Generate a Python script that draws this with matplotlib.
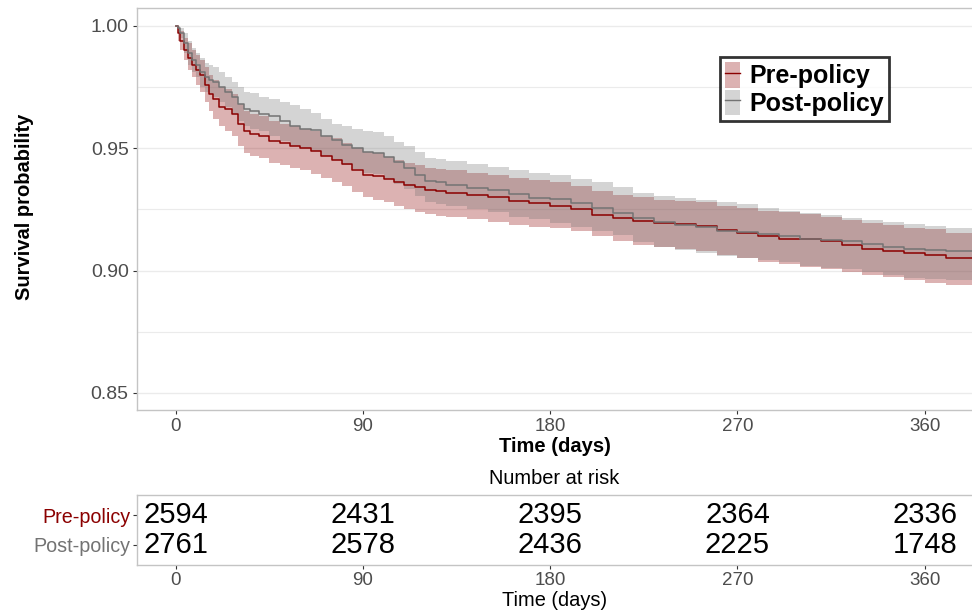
import matplotlib
matplotlib.use("Agg")
import matplotlib.pyplot as plt
from matplotlib.patches import Patch
from matplotlib.lines import Line2D

plt.rcParams['font.family'] = ['Liberation Sans', 'DejaVu Sans']

# Kaplan-Meier estimates (step points, days)
t_days = [0, 1, 2, 4, 6, 8, 10, 12, 14, 16,
          18, 21, 24, 27, 30, 33, 36, 40, 45, 50,
          55, 60, 65, 70, 75, 80, 85, 90, 95, 100,
          105, 110, 115, 120, 125, 130, 140, 150, 160, 170,
          180, 190, 200, 210, 220, 230, 240, 250, 260, 270,
          280, 290, 300, 310, 320, 330, 340, 350, 360, 370,
          383]

pre_surv = [1.000, 0.997, 0.994, 0.990, 0.987, 0.984, 0.982, 0.980, 0.976, 0.972,
            0.970, 0.967, 0.966, 0.964, 0.960, 0.957, 0.956, 0.955, 0.953, 0.952,
            0.951, 0.950, 0.9487, 0.947, 0.945, 0.9435, 0.941, 0.939, 0.9388, 0.9375,
            0.936, 0.935, 0.934, 0.9328, 0.9324, 0.9318, 0.931, 0.930, 0.9285, 0.9277,
            0.9265, 0.925, 0.9228, 0.9213, 0.9201, 0.9193, 0.9189, 0.9183, 0.9167, 0.9152,
            0.914, 0.9128, 0.9127, 0.912, 0.9103, 0.909, 0.908, 0.907, 0.9064, 0.905,
            0.904]
pre_upper = [1.000, 0.999, 0.998, 0.995, 0.993, 0.990, 0.988, 0.986, 0.983, 0.980,
             0.978, 0.975, 0.974, 0.972, 0.968, 0.965, 0.964, 0.963, 0.961, 0.960,
             0.959, 0.958, 0.957, 0.955, 0.954, 0.952, 0.950, 0.9485, 0.948, 0.9465,
             0.945, 0.944, 0.943, 0.942, 0.9415, 0.941, 0.940, 0.939, 0.938, 0.937,
             0.936, 0.9345, 0.9325, 0.931, 0.930, 0.929, 0.9285, 0.928, 0.9265, 0.9255,
             0.9245, 0.924, 0.9232, 0.922, 0.9205, 0.9195, 0.9185, 0.9175, 0.917, 0.9155,
             0.915]
pre_lower = [1.000, 0.994, 0.990, 0.986, 0.982, 0.979, 0.976, 0.973, 0.969, 0.965,
             0.962, 0.959, 0.957, 0.955, 0.951, 0.948, 0.947, 0.946, 0.944, 0.943,
             0.942, 0.941, 0.9395, 0.938, 0.936, 0.9345, 0.932, 0.930, 0.929, 0.928,
             0.9265, 0.925, 0.924, 0.923, 0.9222, 0.9218, 0.921, 0.920, 0.9185, 0.9178,
             0.9175, 0.916, 0.914, 0.912, 0.9105, 0.9095, 0.909, 0.908, 0.9065, 0.905,
             0.9035, 0.9025, 0.9015, 0.9005, 0.8995, 0.8983, 0.8973, 0.8962, 0.895, 0.894,
             0.8925]

post_surv = [1.000, 0.999, 0.997, 0.993, 0.989, 0.986, 0.984, 0.981, 0.979, 0.978,
             0.977, 0.975, 0.973, 0.971, 0.968, 0.966, 0.965, 0.964, 0.963, 0.961,
             0.959, 0.958, 0.9575, 0.955, 0.9535, 0.9515, 0.950, 0.9485, 0.948, 0.9465,
             0.9442, 0.942, 0.939, 0.9365, 0.936, 0.935, 0.9337, 0.933, 0.9312, 0.9298,
             0.9293, 0.9276, 0.9255, 0.9237, 0.9215, 0.920, 0.9188, 0.9176, 0.9163, 0.9157,
             0.9148, 0.914, 0.913, 0.9124, 0.912, 0.911, 0.9098, 0.9088, 0.9085, 0.908,
             0.906]
post_upper = [1.000, 1.000, 0.999, 0.997, 0.994, 0.991, 0.989, 0.987, 0.985, 0.984,
              0.983, 0.981, 0.979, 0.977, 0.975, 0.973, 0.9725, 0.971, 0.970, 0.969,
              0.9675, 0.966, 0.9645, 0.962, 0.960, 0.959, 0.9577, 0.957, 0.9565, 0.955,
              0.9525, 0.951, 0.9485, 0.946, 0.9455, 0.9448, 0.9435, 0.9425, 0.941, 0.940,
              0.9392, 0.9375, 0.936, 0.934, 0.9318, 0.9305, 0.9297, 0.9288, 0.928, 0.927,
              0.9255, 0.9245, 0.9235, 0.9225, 0.9215, 0.9208, 0.920, 0.919, 0.9184, 0.9175,
              0.916]
post_lower = [1.000, 0.997, 0.995, 0.989, 0.984, 0.981, 0.979, 0.975, 0.973, 0.972,
              0.971, 0.969, 0.967, 0.964, 0.961, 0.959, 0.958, 0.957, 0.955, 0.953,
              0.951, 0.950, 0.949, 0.947, 0.945, 0.943, 0.9415, 0.940, 0.9395, 0.9375,
              0.9355, 0.9335, 0.9305, 0.928, 0.9272, 0.9262, 0.925, 0.924, 0.922, 0.921,
              0.9195, 0.9178, 0.916, 0.9145, 0.9115, 0.9097, 0.9085, 0.907, 0.9058, 0.905,
              0.9045, 0.9033, 0.902, 0.901, 0.9005, 0.8995, 0.898, 0.897, 0.8965, 0.896,
              0.8945]

# number at risk table
risk_times = [0, 90, 180, 270, 360]
pre_risk = [2594, 2431, 2395, 2364, 2336]
post_risk = [2761, 2578, 2436, 2225, 1748]

groups = ['Pre-policy', 'Post-policy']
PRE_COL = '#8B0000'
POST_COL = '#737373'
BORDER = '#C4C4C4'
GRID = '#EBEBEB'
TICK_TXT = '#4D4D4D'

XLIM = (-18.5, 382.7)

fig = plt.figure(figsize=(9.72, 6.16), dpi=100)

# ---- survival curves
ax = fig.add_axes([137 / 972, 1 - 410 / 616, 835 / 972, 402 / 616])
ax.fill_between(t_days, pre_lower, pre_upper, step='post', color=PRE_COL,
                alpha=0.3, lw=0)
ax.fill_between(t_days, post_lower, post_upper, step='post', color=POST_COL,
                alpha=0.3, lw=0)
ax.step(t_days, pre_surv, where='post', color=PRE_COL, lw=1.1)
ax.step(t_days, post_surv, where='post', color=POST_COL, lw=1.1)

ax.set_xlim(*XLIM)
ax.set_ylim(0.843, 1.0073)
ax.set_xticks(risk_times)
ax.set_yticks([0.85, 0.90, 0.95, 1.00])
ax.set_yticklabels(['0.85', '0.90', '0.95', '1.00'])
ax.set_yticks([0.875, 0.925, 0.975], minor=True)
ax.grid(True, which='major', axis='y', color=GRID, lw=1.0)
ax.grid(True, which='minor', axis='y', color=GRID, lw=0.8)
ax.set_axisbelow(True)
ax.tick_params(which='minor', left=False)
ax.tick_params(which='major', colors='#333333', labelcolor=TICK_TXT,
               length=3, width=0.8, pad=3)
ax.tick_params(axis='y', labelsize=14)
ax.tick_params(axis='x', labelsize=13.5, pad=3)
for side, sp in ax.spines.items():
    sp.set_color(BORDER)
    sp.set_linewidth(1.0)
ax.spines['right'].set_visible(False)

handles = [(Patch(facecolor=PRE_COL, alpha=0.3, lw=0), Line2D([], [], color=PRE_COL, lw=1)),
           (Patch(facecolor=POST_COL, alpha=0.3, lw=0), Line2D([], [], color=POST_COL, lw=1))]
leg = ax.legend(handles, groups, loc='upper left', bbox_to_anchor=(0.698, 0.878),
                prop={'weight': 'bold', 'size': 18}, frameon=True, fancybox=False,
                handlelength=0.6, handleheight=1.2, handletextpad=0.4,
                borderpad=0.2, labelspacing=0.05, borderaxespad=0)
leg.get_frame().set_edgecolor('black')
leg.get_frame().set_linewidth(2.0)

fig.text(25 / 972, 1 - 207 / 616, 'Survival probability', rotation=90,
         ha='center', va='center', fontsize=14.5, fontweight='bold')
fig.text(554.5 / 972, 1 - 446 / 616, 'Time (days)', ha='center', va='center',
         fontsize=14.5, fontweight='bold')

# ---- risk table
fig.text(554.5 / 972, 1 - 478 / 616, 'Number at risk', ha='center', va='center',
         fontsize=14.4)
tab = fig.add_axes([137 / 972, 1 - 565 / 616, 835 / 972, 70 / 616])
tab.set_xlim(*XLIM)
tab.set_ylim(-0.7, 1.7)
for t, n in zip(risk_times, pre_risk):
    tab.text(t, 1, str(n), ha='center', va='center', fontsize=21)
for t, n in zip(risk_times, post_risk):
    tab.text(t, 0, str(n), ha='center', va='center', fontsize=21)
tab.set_xticks(risk_times)
tab.set_yticks([1, 0])
tab.tick_params(colors='#333333', length=3, width=0.8)
tab.tick_params(axis='x', labelsize=13.5, labelcolor=TICK_TXT, pad=2)
tab.tick_params(axis='y', labelsize=14.2, pad=2)
tab.set_yticklabels(groups)
for lbl, col in zip(tab.get_yticklabels(), [PRE_COL, POST_COL]):
    lbl.set_color(col)
for side, sp in tab.spines.items():
    sp.set_color(BORDER)
    sp.set_linewidth(1.0)
tab.spines['right'].set_visible(False)
fig.text(554.5 / 972, 1 - 600 / 616, 'Time (days)', ha='center', va='center',
         fontsize=14.4)

fig.savefig('out.png', dpi=100)
